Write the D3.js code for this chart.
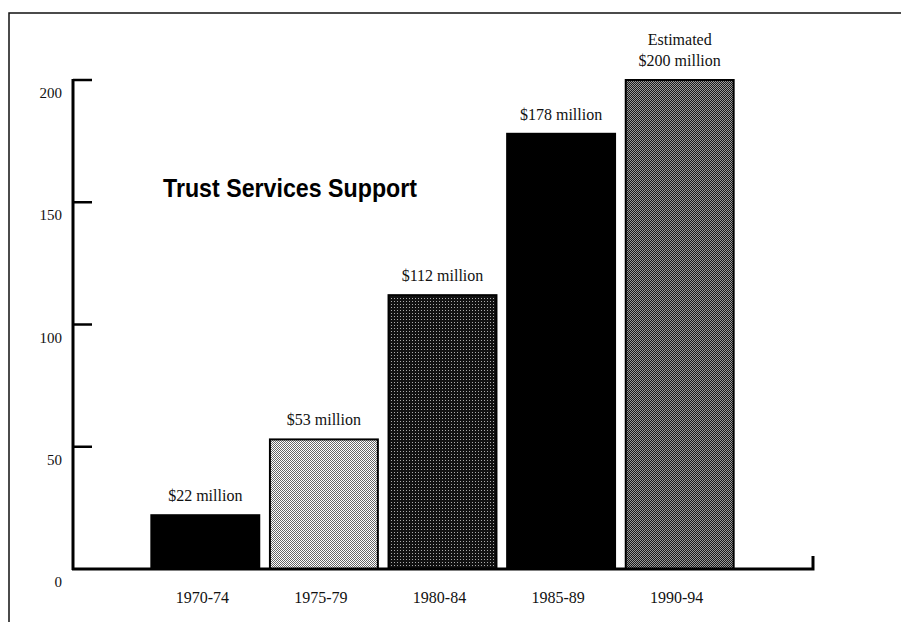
<!DOCTYPE html>
<html>
<head>
<meta charset="utf-8">
<script src="https://cdn.jsdelivr.net/npm/d3@7"></script>
<style>
  body { margin: 0; background: #fff; }
  svg { display: block; }
</style>
</head>
<body>
<div id="chart"></div>
<script>
// data
var periods = ["1970-74", "1975-79", "1980-84", "1985-89", "1990-94"];
var support = [22, 53, 112, 178, 200];
var valueLabels = [["$22 million"], ["$53 million"], ["$112 million"], ["$178 million"], ["Estimated", "$200 million"]];
var yTicks = [0, 50, 100, 150, 200];
var fills = ["#000", "url(#light)", "url(#dark)", "#000", "url(#mid)"];

function init()
{
    const width = 901;
    const height = 622;

    var svg = d3.select("#chart")
        .append("svg")
        .attr("width", width)
        .attr("height", height);

    // halftone-ish patterns
    var defs = svg.append("defs");
    function checker(id, a, b) {
        var p = defs.append("pattern")
            .attr("id", id)
            .attr("width", 2).attr("height", 2)
            .attr("patternUnits", "userSpaceOnUse");
        p.append("rect").attr("width", 2).attr("height", 2).attr("fill", a);
        p.append("rect").attr("width", 1).attr("height", 1).attr("fill", b);
        p.append("rect").attr("x", 1).attr("y", 1).attr("width", 1).attr("height", 1).attr("fill", b);
    }
    checker("light", "#fff", "#666");
    checker("mid", "#1a1a1a", "#9a9a9a");
    var dk = defs.append("pattern")
        .attr("id", "dark")
        .attr("width", 3).attr("height", 3)
        .attr("patternUnits", "userSpaceOnUse");
    dk.append("rect").attr("width", 3).attr("height", 3).attr("fill", "#111");
    dk.append("rect").attr("x", 1).attr("y", 1).attr("width", 1).attr("height", 1).attr("fill", "#aaa");

    // outer frame (top and left edges visible)
    svg.append("path")
        .attr("d", "M9,622V13H901")
        .attr("fill", "none")
        .attr("stroke", "#111")
        .attr("stroke-width", 1.5);

    var x = d3.scaleBand()
        .domain(periods)
        .range([146, 739])
        .paddingInner(0.09)
        .paddingOuter(0.045);

    var y = d3.scaleLinear()
        .domain([0, 200])
        .range([569, 80]);

    var serif = "'Liberation Serif', 'DejaVu Serif', serif";

    // bars
    svg.selectAll("rect.bar")
        .data(support)
        .enter()
        .append("rect")
        .attr("class", "bar")
        .attr("x", function(d, i) { return x(periods[i]); })
        .attr("y", function(d) { return y(d); })
        .attr("width", x.bandwidth())
        .attr("height", function(d) { return y(0) - y(d); })
        .attr("fill", function(d, i) { return fills[i]; })
        .attr("stroke", "#000")
        .attr("stroke-width", 2);

    // value labels above bars
    var lab = svg.selectAll("text.val")
        .data(support)
        .enter()
        .append("text")
        .attr("class", "val")
        .attr("text-anchor", "middle")
        .attr("font-family", serif)
        .attr("font-size", 16)
        .attr("fill", "#111");
    lab.each(function(d, i) {
        var lines = valueLabels[i];
        var cx = x(periods[i]) + x.bandwidth() / 2;
        var base = y(d) - 14 - (lines.length - 1) * 21;
        d3.select(this).selectAll("tspan")
            .data(lines)
            .enter()
            .append("tspan")
            .attr("x", cx)
            .attr("y", function(t, j) { return base + j * 21; })
            .text(function(t) { return t; });
    });

    // y axis: line with ticks pointing into the plot
    svg.append("line")
        .attr("x1", 73).attr("x2", 73)
        .attr("y1", y(200) - 1).attr("y2", y(0) + 1)
        .attr("stroke", "#000").attr("stroke-width", 3);
    svg.selectAll("line.ytick")
        .data(yTicks.filter(function(d) { return d > 0; }))
        .enter()
        .append("line")
        .attr("class", "ytick")
        .attr("x1", 73).attr("x2", 92)
        .attr("y1", function(d) { return y(d); })
        .attr("y2", function(d) { return y(d); })
        .attr("stroke", "#000").attr("stroke-width", 2.5);
    svg.selectAll("text.ytick")
        .data(yTicks)
        .enter()
        .append("text")
        .attr("class", "ytick")
        .attr("x", 62)
        .attr("y", function(d) { return y(d) + 18; })
        .attr("text-anchor", "end")
        .attr("font-family", serif)
        .attr("font-size", 15)
        .attr("fill", "#111")
        .text(function(d) { return d; });

    // x axis baseline with end tick
    svg.append("path")
        .attr("d", "M72," + y(0) + "H813V" + (y(0) - 13))
        .attr("fill", "none")
        .attr("stroke", "#000").attr("stroke-width", 3);

    svg.selectAll("text.xlab")
        .data(periods)
        .enter()
        .append("text")
        .attr("class", "xlab")
        .attr("x", function(d) { return x(d) + x.bandwidth() / 2 - 3; })
        .attr("y", 603)
        .attr("text-anchor", "middle")
        .attr("font-family", serif)
        .attr("font-size", 16)
        .attr("fill", "#111")
        .text(function(d) { return d; });

    // title
    svg.append("text")
        .attr("x", 163)
        .attr("y", 197)
        .attr("font-family", "'Liberation Sans Narrow', 'Liberation Sans', Arial, sans-serif")
        .attr("font-weight", "bold")
        .attr("font-size", 25)
        .attr("textLength", 254)
        .attr("lengthAdjust", "spacingAndGlyphs")
        .attr("fill", "#000")
        .text("Trust Services Support");
}

init();
</script>
</body>
</html>
